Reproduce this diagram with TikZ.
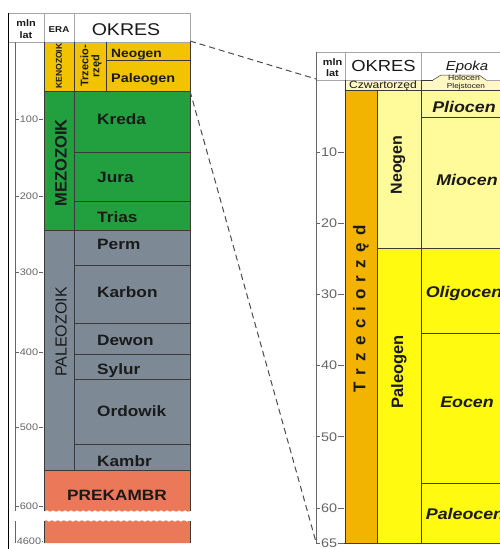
\documentclass[tikz,border=0pt]{standalone}
\usepackage{fontspec}
\usepackage{graphicx}
\setmainfont{Liberation Sans}[FakeStretch=1.15]
\newfontfamily\rotfont{Liberation Sans}
\usetikzlibrary{decorations.pathmorphing}
\definecolor{keno}{HTML}{F2C300}
\definecolor{meso}{HTML}{22A040}
\definecolor{paleoz}{HTML}{7D8A96}
\definecolor{prek}{HTML}{EC785A}
\definecolor{trzec}{HTML}{F2B400}
\definecolor{neog}{HTML}{FFFA9A}
\definecolor{paleog}{HTML}{FFFA10}
\definecolor{czwar}{HTML}{FFF8C4}
\definecolor{txt}{HTML}{1A1A1A}
\definecolor{gridc}{HTML}{3A3A3A}
\definecolor{ticc}{HTML}{666666}
\begin{document}
\begin{tikzpicture}[x=1pt,y=-1pt,
  gl/.style={draw=gridc,line width=0.5pt},
  hl/.style={draw=gray!70,line width=0.6pt},
  axl/.style={draw=gray!80!black,line width=0.6pt},
  per/.style={font=\fontsize{15}{17}\selectfont\bfseries,text=txt,anchor=base west,inner sep=0pt},
  epo/.style={font=\fontsize{15.5}{17}\selectfont\bfseries\itshape,text=txt,anchor=base,inner sep=0pt},
  rot/.style={rotate=90,text=txt,inner sep=0pt,anchor=center},
  tl/.style={font=\fontsize{9.5}{10}\selectfont,text=ticc,fill=white,inner sep=0.6pt},
  tr/.style={font=\fontsize{12.5}{13}\selectfont,text=ticc,fill=white,inner sep=0.6pt},
  hd/.style={text=txt,inner sep=0pt,anchor=base},
  zoomline/.style={draw=gray!60!black,dashed,dash pattern=on 6pt off 4pt,line width=1pt}]
\useasboundingbox (0,0) rectangle (500,549);
\clip (0,0) rectangle (500,549);
\fill[white] (0,0) rectangle (500,549);

% ---------------- LEFT COLUMN ----------------
\fill[keno] (44,42) rectangle (190,91);
\fill[meso] (44,91) rectangle (190,230);
\fill[paleoz] (44,230) rectangle (190,470);
\fill[prek] (44,470) -- (190,470) -- (190,511)
  decorate[decoration={snake,amplitude=0.7pt,segment length=6pt}]{-- (44,511)} -- cycle;
\fill[prek] (44,521)
  decorate[decoration={snake,amplitude=0.7pt,segment length=6pt}]{-- (190,521)}
  -- (190,543) -- (44,543) -- cycle;

% header
\draw[hl] (8,13) rectangle (190,42);
\draw[hl] (44,13) -- (44,42) (74,13) -- (74,42);
\draw[line width=0.8pt,black] (8,13) -- (8,549);

% grid
\draw[gl] (44,42) -- (44,470) (74,42) -- (74,470) (190,42) -- (190,511) (190,521) -- (190,543);
\draw[gl] (44,470) -- (44,511) (44,521) -- (44,543);
\draw[gl] (106,42) -- (106,91) (106,60) -- (190,60);
\draw[gl] (44,91) -- (190,91);
\draw[gl] (74,152) -- (190,152) (74,201) -- (190,201);
\draw[gl] (44,230) -- (190,230);
\draw[gl] (74,265) -- (190,265) (74,323) -- (190,323) (74,354) -- (190,354)
  (74,379) -- (190,379) (74,444) -- (190,444);
\draw[gl] (44,470) -- (190,470);

% left axis
\draw[axl] (15,42) -- (15,511) (15,521) -- (15,543);
\foreach \yy/\lab in {119/100,196/200,272/300,352/400,427/500,506/600}{
  \draw[axl] (15,\yy) -- (43,\yy);
  \node[tl] (tick\lab) at (29,\yy) {\lab};
}
\draw[axl] (15,541) -- (43,541);
\node[tl] (tick4600) at (29,541) {4600};

% header text
\node[hd,font=\fontsize{9.5}{10}\selectfont\bfseries] (hmln) at (26,26) {mln};
\node[hd,font=\fontsize{9.5}{10}\selectfont\bfseries] (hlat) at (26,38) {lat};
\node[hd,font=\fontsize{8.5}{9}\selectfont\bfseries] (hera) at (59,32) {ERA};
\node[hd,font=\fontsize{17}{18}\selectfont] (hokres) at (126,35) {OKRES};

% era texts
\node[rot,font=\rotfont\fontsize{8.5}{9}\selectfont\bfseries] (keno) at (59,66) {KENOZOIK};
\node[rot,align=center,font=\rotfont\fontsize{11}{11}\selectfont\bfseries] (trz) at (91,66) {Trzecio-\\rzęd};
\node[rot,font=\rotfont\fontsize{16.5}{17}\selectfont\bfseries] (mezo) at (61,163) {MEZOZOIK};
\node[rot,font=\rotfont\fontsize{16}{17}\selectfont] (paleo) at (61,332) {PALEOZOIK};

% periods
\node[per,font=\fontsize{12}{13}\selectfont\bfseries] (neo) at (111,57) {Neogen};
\node[per,font=\fontsize{12.5}{13}\selectfont\bfseries] (pal) at (111,82) {Paleogen};
\node[per] (kreda) at (97,124) {Kreda};
\node[per] (jura) at (97,182) {Jura};
\node[per] (trias) at (97,222) {Trias};
\node[per] (perm) at (97,249) {Perm};
\node[per] (karbon) at (97,297) {Karbon};
\node[per] (dewon) at (97,345) {Dewon};
\node[per] (sylur) at (97,374) {Sylur};
\node[per] (ordo) at (97,416) {Ordowik};
\node[per] (kambr) at (97,466) {Kambr};
\node[per,anchor=base] (prekt) at (117,500) {PREKAMBR};

% ---------------- RIGHT COLUMN ----------------
\fill[czwar] (345,80) rectangle (421,90);
\fill[trzec] (345,90) rectangle (377,543);
\fill[neog] (377,90) rectangle (421,248);
\fill[paleog] (377,248) rectangle (421,543);
\fill[czwar] (421,80) rectangle (520,90);
\filldraw[fill=czwar,gl] (433,80) -- (441,75) -- (479,75) -- (486,80);
\fill[neog] (421,90) rectangle (520,248);
\fill[paleog] (421,248) rectangle (520,543);

\draw[hl] (316,52) -- (520,52) (345,52) -- (345,80) (421,52) -- (421,80);
\draw[hl] (316,80) -- (433,80) (486,80) -- (520,80);
\draw[gl] (345,80) -- (345,543) (377,90) -- (377,543) (421,80) -- (421,543);
\draw[gl] (345,90) -- (520,90) (421,117) -- (520,117) (377,248) -- (520,248)
  (421,333) -- (520,333) (421,483) -- (520,483) (316,543) -- (520,543);
\draw[gl] (421,80) -- (433,80);
\draw[axl] (316,52) -- (316,543);

\foreach \v in {10,20,30,40,50,60,65}{
  \pgfmathsetmacro\yy{81.2+7.11*\v}
  \draw[axl] (316,\yy) -- (344,\yy);
  \node[tr] (rt\v) at (329,\yy) {\v};
}

% right header
\node[hd,font=\fontsize{9.5}{10}\selectfont\bfseries] (rmln) at (332.5,65) {mln};
\node[hd,font=\fontsize{9.5}{10}\selectfont\bfseries] (rlat) at (332.5,76) {lat};
\node[hd,font=\fontsize{16}{17}\selectfont] (rokres) at (383.5,71.5) {OKRES};
\node[hd,font=\fontsize{13}{14}\selectfont\itshape] (repoka) at (467,70) {Epoka};
\node[hd,font=\fontsize{10.5}{11}\selectfont] (czw) at (383,88) {Czwartorzęd};
\node[hd,font=\fontsize{7.5}{8}\selectfont] (holo) at (464,80) {Holocen};
\node[hd,font=\fontsize{7.2}{8}\selectfont] (plej) at (466,88.5) {Plejstocen};

\node[rot,font=\rotfont\fontsize{17}{18}\selectfont\bfseries] (rtrz) at (361,309)
  {T\kern7.3pt r\kern7.3pt z\kern7.3pt e\kern7.3pt c\kern7.3pt i\kern7.3pt o\kern7.3pt r\kern7.3pt z\kern7.3pt ę\kern7.3pt d};
\node[rot,font=\rotfont\fontsize{16}{17}\selectfont\bfseries] (rneo) at (398,165) {Neogen};
\node[rot,font=\rotfont\fontsize{16.5}{17}\selectfont\bfseries] (rpal) at (399,372) {Paleogen};

\node[epo] (plio) at (464,112) {Pliocen};
\node[epo] (mio) at (467,185.5) {Miocen};
\node[epo] (oligo) at (464,297.5) {Oligocen};
\node[epo] (eoc) at (467,407) {Eocen};
\node[epo] (paleoc) at (465,519) {Paleocen};

% zoom connectors
\coordinate (L1) at (190,41);
\coordinate (R1) at (316,79);
\coordinate (L2) at (190,91);
\coordinate (R2) at (316,542);
\draw[zoomline] (L1) -- (R1);
\draw[zoomline] (L2) -- (R2);
\end{tikzpicture}
\end{document}
